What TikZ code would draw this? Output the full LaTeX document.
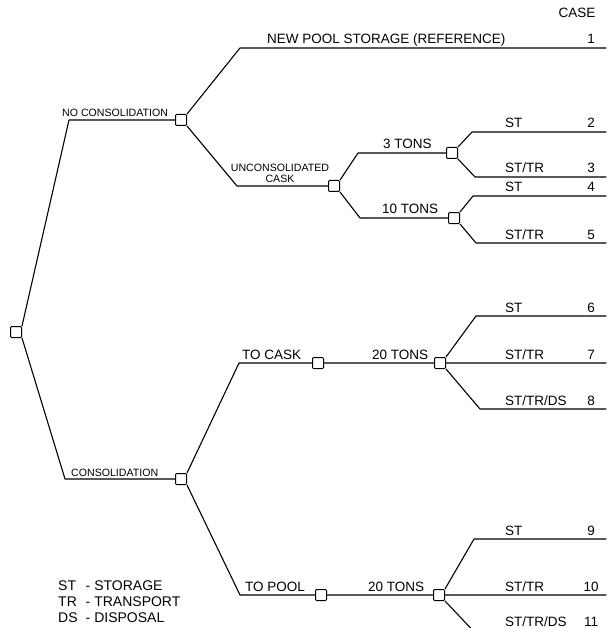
\documentclass[tikz,border=0pt]{standalone}
\usepackage{fontspec}
\setmainfont{Liberation Sans}
\usetikzlibrary{positioning}
\tikzset{
  tree box/.style={draw,fill=white,rounded corners=1pt,minimum size=11pt,inner sep=0pt,line width=1pt},
  tree edge/.style={line width=1.1pt},
  branch label/.style={font=\fontsize{13.5}{15}\selectfont,inner sep=0pt,anchor=base west},
  small label/.style={font=\fontsize{10.6}{11.5}\selectfont,inner sep=0pt},
  case label/.style={font=\fontsize{13.5}{15}\selectfont,inner sep=0pt,anchor=base}
}

\begin{document}
\begin{tikzpicture}[x=1pt,y=-1pt,line cap=round,line join=round]
  \useasboundingbox (0,0) rectangle (610,628);
  \clip (0,0) rectangle (610,628);

  % decision boxes
  \node[tree box] (root)   at ( 16,332) {};
  \node[tree box] (nocons) at (181,120) {};
  \node[tree box] (uncons) at (334,186) {};
  \node[tree box] (t3)     at (452,153) {};
  \node[tree box] (t10)    at (454,218) {};
  \node[tree box] (cons)   at (181,479) {};
  \node[tree box] (cask)   at (318,363) {};
  \node[tree box] (caskt)  at (440,363) {};
  \node[tree box] (pool)   at (321,595) {};
  \node[tree box] (poolt)  at (439,595) {};

  % bends
  \coordinate (k1) at ( 69,120);
  \coordinate (k2) at ( 65,479);
  \coordinate (k3) at (240, 48);
  \coordinate (k4) at (237,186);
  \coordinate (k5) at (358,153);
  \coordinate (k6) at (360,218);
  \coordinate (k7) at (239,363);
  \coordinate (k8) at (240,595);
  \coordinate (c2)  at (472,132);
  \coordinate (c3)  at (475,177);
  \coordinate (c4)  at (473,196);
  \coordinate (c5)  at (476,243);
  \coordinate (c6)  at (476,316);
  \coordinate (c8)  at (480,409);
  \coordinate (c9)  at (474,539);
  \coordinate (c11) at (480,638);
  \foreach \n/\y in {1/48,2/132,3/177,4/196,5/243,6/316,7/363,8/409,9/539,10/595,11/638}
    \coordinate (e\n) at (606,\y);

  \draw[tree edge] (root.north east) -- (k1) -- (nocons.west)
        (root.south east) -- (k2) -- (cons.west)
        (nocons.north east) -- (k3) -- (e1)
        (nocons.south east) -- (k4) -- (uncons.west)
        (uncons.north east) -- (k5) -- (t3.west)
        (uncons.south east) -- (k6) -- (t10.west)
        (t3.north east) -- (c2) -- (e2)
        (t3.south east) -- (c3) -- (e3)
        (t10.north east) -- (c4) -- (e4)
        (t10.south east) -- (c5) -- (e5)
        (cons.north east) -- (k7) -- (cask.west)
        (cons.south east) -- (k8) -- (pool.west)
        (cask.east) -- (caskt.west)
        (caskt.north east) -- (c6) -- (e6)
        (caskt.east) -- (e7)
        (caskt.south east) -- (c8) -- (e8)
        (pool.east) -- (poolt.west)
        (poolt.north east) -- (c9) -- (e9)
        (poolt.east) -- (e10)
        (poolt.south east) -- (c11) -- (e11);

  % branch labels
  \node[small label,anchor=base west] (lnocons) at (62,117) {NO CONSOLIDATION};
  \node[small label,anchor=base west] (lcons) at (71,476) {CONSOLIDATION};
  \node[small label,anchor=south,align=center] (luncons) at (280,183) {UNCONSOLIDATED\\CASK};
  \node[branch label] (lref)   at (267,44)  {NEW POOL STORAGE (REFERENCE)};
  \node[branch label] (l3)     at (383,149) {3 TONS};
  \node[branch label] (l10)    at (382,213) {10 TONS};
  \node[branch label] (lcask)  at (242,359) {TO CASK};
  \node[branch label] (lcaskt) at (372,359) {20 TONS};
  \node[branch label] (lpool)  at (245,591) {TO POOL};
  \node[branch label] (lpoolt) at (368,591) {20 TONS};

  % outcomes and case numbers
  \node[case label] (lcase) at (577,18) {CASE};
  \foreach \n/\y/\t in {2/132/ST,3/177/{ST/TR},4/196/ST,5/243/{ST/TR},6/316/ST,
      7/363/{ST/TR},8/409/{ST/TR/DS},9/539/ST,10/595/{ST/TR},11/630/{ST/TR/DS}}
    \node[branch label] (o\n) at (505,\y-4) {\t};
  \foreach \n/\y in {1/48,2/132,3/177,4/196,5/243,6/316,7/363,8/409,9/539,10/595,11/630}
    \node[case label] (n\n) at (591,\y-4) {\n};

  % key
  \node[anchor=base west,inner sep=0pt,font=\fontsize{14}{16}\selectfont] (key) at (58,590)
    {\begin{tabular}[t]{@{}l@{\hspace{8pt}}l@{\hspace{4pt}}l@{}}
      ST&-&STORAGE\\TR&-&TRANSPORT\\DS&-&DISPOSAL\end{tabular}};
\end{tikzpicture}
\end{document}
